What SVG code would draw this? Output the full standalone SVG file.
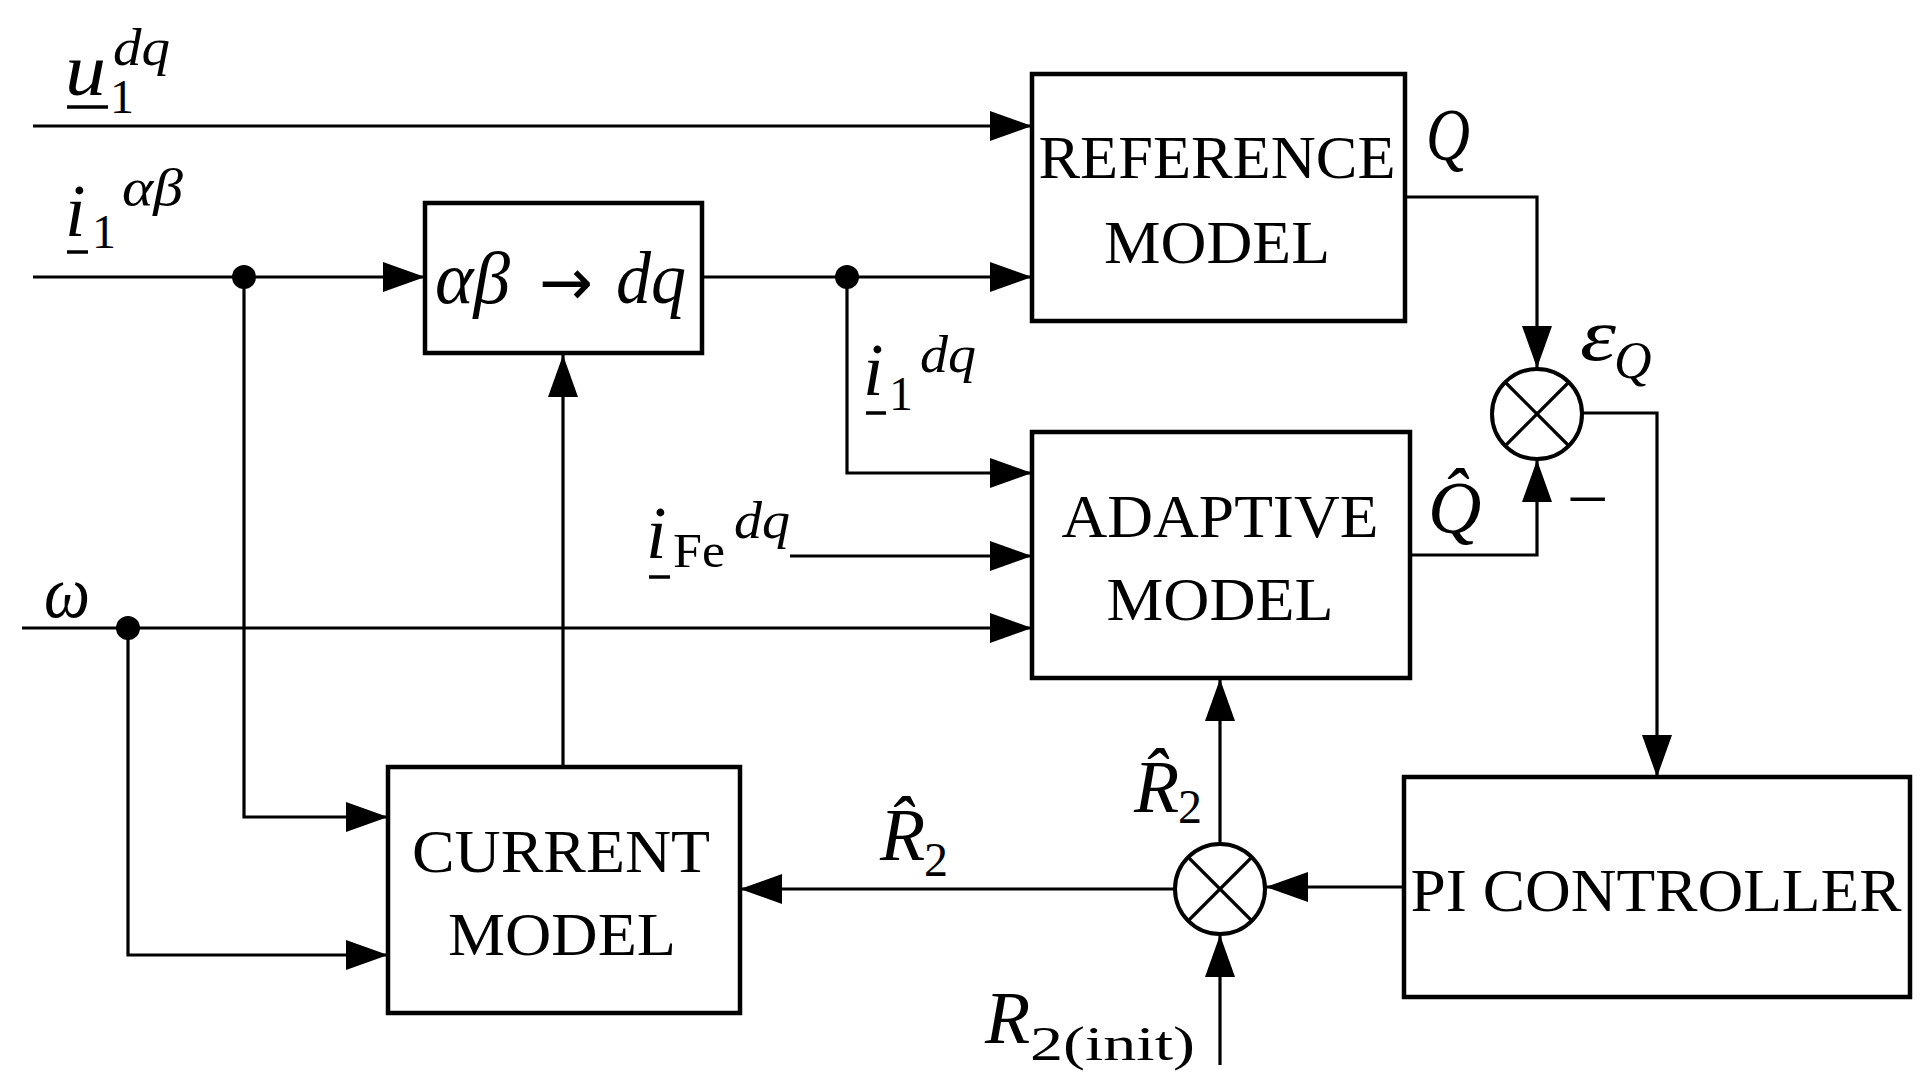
<svg xmlns="http://www.w3.org/2000/svg" width="1932" height="1092" viewBox="0 0 1932 1092">
<defs>
<style>
.box{fill:#fff;stroke:#000;stroke-width:4.5}
.ln{fill:none;stroke:#000;stroke-width:3.2}
.sum{fill:#fff;stroke:#000;stroke-width:4}
.x{stroke:#000;stroke-width:3.2}
.bt{font-family:"Liberation Serif",serif;font-size:62px;fill:#000;text-anchor:middle}
.m{font-family:"Liberation Serif",serif;font-style:italic;font-size:74px;fill:#000}
.s{font-family:"Liberation Serif",serif;font-size:48px;fill:#000}
.si{font-family:"Liberation Serif",serif;font-style:italic;font-size:52px;fill:#000}
.ul{stroke:#000;stroke-width:3.5}
</style>
<marker id="ah" markerUnits="userSpaceOnUse" markerWidth="42" markerHeight="30" refX="42" refY="15" orient="auto" viewBox="0 0 42 30">
<path d="M0,0 L42,15 L0,30 Z" fill="#000"/>
</marker>
</defs>
<rect width="1932" height="1092" fill="#fff"/>

<g id="connectors">
<path class="ln" d="M33,126 H1032" marker-end="url(#ah)"/>
<path class="ln" d="M33,277 H425" marker-end="url(#ah)"/>
<path class="ln" d="M244,277 V817 H388" marker-end="url(#ah)"/>
<path class="ln" d="M702,277 H1032" marker-end="url(#ah)"/>
<path class="ln" d="M847,277 V473 H1032" marker-end="url(#ah)"/>
<path class="ln" d="M790,556 H1032" marker-end="url(#ah)"/>
<path class="ln" d="M22,628 H1032" marker-end="url(#ah)"/>
<path class="ln" d="M128,628 V955 H388" marker-end="url(#ah)"/>
<path class="ln" d="M563,767 V355" marker-end="url(#ah)"/>
<path class="ln" d="M1405,197 H1537 V368" marker-end="url(#ah)"/>
<path class="ln" d="M1410,555 H1537 V460" marker-end="url(#ah)"/>
<path class="ln" d="M1583,413 H1657 V777" marker-end="url(#ah)"/>
<path class="ln" d="M1404,887 H1266" marker-end="url(#ah)"/>
<path class="ln" d="M1175,889 H740" marker-end="url(#ah)"/>
<path class="ln" d="M1220,843 V679" marker-end="url(#ah)"/>
<path class="ln" d="M1220,1065 V935" marker-end="url(#ah)"/>
<circle cx="244" cy="277" r="12" fill="#000"/>
<circle cx="847" cy="277" r="12" fill="#000"/>
<circle cx="128" cy="628" r="12" fill="#000"/>
</g>

<g id="reference-model">
<rect class="box" x="1032" y="74" width="373" height="247"/>
<text class="bt" x="1217" y="178" textLength="357" lengthAdjust="spacingAndGlyphs">REFERENCE</text>
<text class="bt" x="1217" y="263" textLength="226" lengthAdjust="spacingAndGlyphs">MODEL</text>
</g>

<g id="transform">
<rect class="box" x="425" y="203" width="277" height="150"/>
<text class="m" x="435" y="303" textLength="75" lengthAdjust="spacingAndGlyphs">αβ</text>
<text x="539" y="305" font-family="DejaVu Sans, sans-serif" font-size="66" textLength="54" lengthAdjust="spacingAndGlyphs">→</text>
<text class="m" x="616" y="303" textLength="70" lengthAdjust="spacingAndGlyphs">dq</text>
</g>

<g id="adaptive-model">
<rect class="box" x="1032" y="432" width="378" height="246"/>
<text class="bt" x="1220" y="537" textLength="317" lengthAdjust="spacingAndGlyphs">ADAPTIVE</text>
<text class="bt" x="1220" y="620" textLength="227" lengthAdjust="spacingAndGlyphs">MODEL</text>
</g>

<g id="current-model">
<rect class="box" x="388" y="767" width="352" height="246"/>
<text class="bt" x="561" y="872" textLength="298" lengthAdjust="spacingAndGlyphs">CURRENT</text>
<text class="bt" x="562" y="955" textLength="228" lengthAdjust="spacingAndGlyphs">MODEL</text>
</g>

<g id="pi-controller">
<rect class="box" x="1404" y="777" width="506" height="220"/>
<text class="bt" x="1656" y="911" textLength="491" lengthAdjust="spacingAndGlyphs">PI CONTROLLER</text>
</g>

<g id="sum-q">
<circle class="sum" cx="1537" cy="414" r="45"/>
<line class="x" x1="1505" y1="382" x2="1569" y2="446"/>
<line class="x" x1="1569" y1="382" x2="1505" y2="446"/>
</g>

<g id="sum-r">
<circle class="sum" cx="1220" cy="889" r="45"/>
<line class="x" x1="1188" y1="857" x2="1252" y2="921"/>
<line class="x" x1="1252" y1="857" x2="1188" y2="921"/>
</g>

<g id="labels">
<text class="m" x="65" y="95" textLength="41" lengthAdjust="spacingAndGlyphs">u</text>
<line class="ul" x1="67" y1="107" x2="108" y2="107"/>
<text class="s" x="110" y="113">1</text>
<text class="si" x="113" y="65" textLength="57" lengthAdjust="spacingAndGlyphs">dq</text>

<text class="m" x="65" y="236">i</text>
<line class="ul" x1="67" y1="252" x2="88" y2="252"/>
<text class="s" x="92" y="248">1</text>
<text class="si" x="122" y="205" textLength="61" lengthAdjust="spacingAndGlyphs">αβ</text>

<text class="m" x="863" y="395">i</text>
<line class="ul" x1="866" y1="413" x2="886" y2="413"/>
<text class="s" x="889" y="410">1</text>
<text class="si" x="920" y="372" textLength="56" lengthAdjust="spacingAndGlyphs">dq</text>

<text class="m" x="646" y="558">i</text>
<line class="ul" x1="649" y1="577" x2="670" y2="577"/>
<text class="s" x="673" y="567" textLength="52" lengthAdjust="spacingAndGlyphs">Fe</text>
<text class="si" x="734" y="538" textLength="56" lengthAdjust="spacingAndGlyphs">dq</text>

<text class="m" x="44" y="617" textLength="46" lengthAdjust="spacingAndGlyphs">ω</text>

<text class="m" x="1426" y="160" textLength="44" lengthAdjust="spacingAndGlyphs">Q</text>
<text class="m" x="1428" y="533">Q̂</text>
<text class="m" x="1580" y="360" textLength="36" lengthAdjust="spacingAndGlyphs">ε</text>
<text class="si" x="1614" y="378" font-size="48">Q</text>
<text class="m" x="1562" y="524" font-style="normal" font-size="68">−</text>

<text class="m" x="1134" y="812">R̂</text>
<text class="s" x="1178" y="823">2</text>

<text class="m" x="880" y="860">R̂</text>
<text class="s" x="924" y="876">2</text>

<text class="m" x="985" y="1043">R</text>
<text class="s" x="1030" y="1060" textLength="165" lengthAdjust="spacingAndGlyphs">2(init)</text>
</g>
</svg>
